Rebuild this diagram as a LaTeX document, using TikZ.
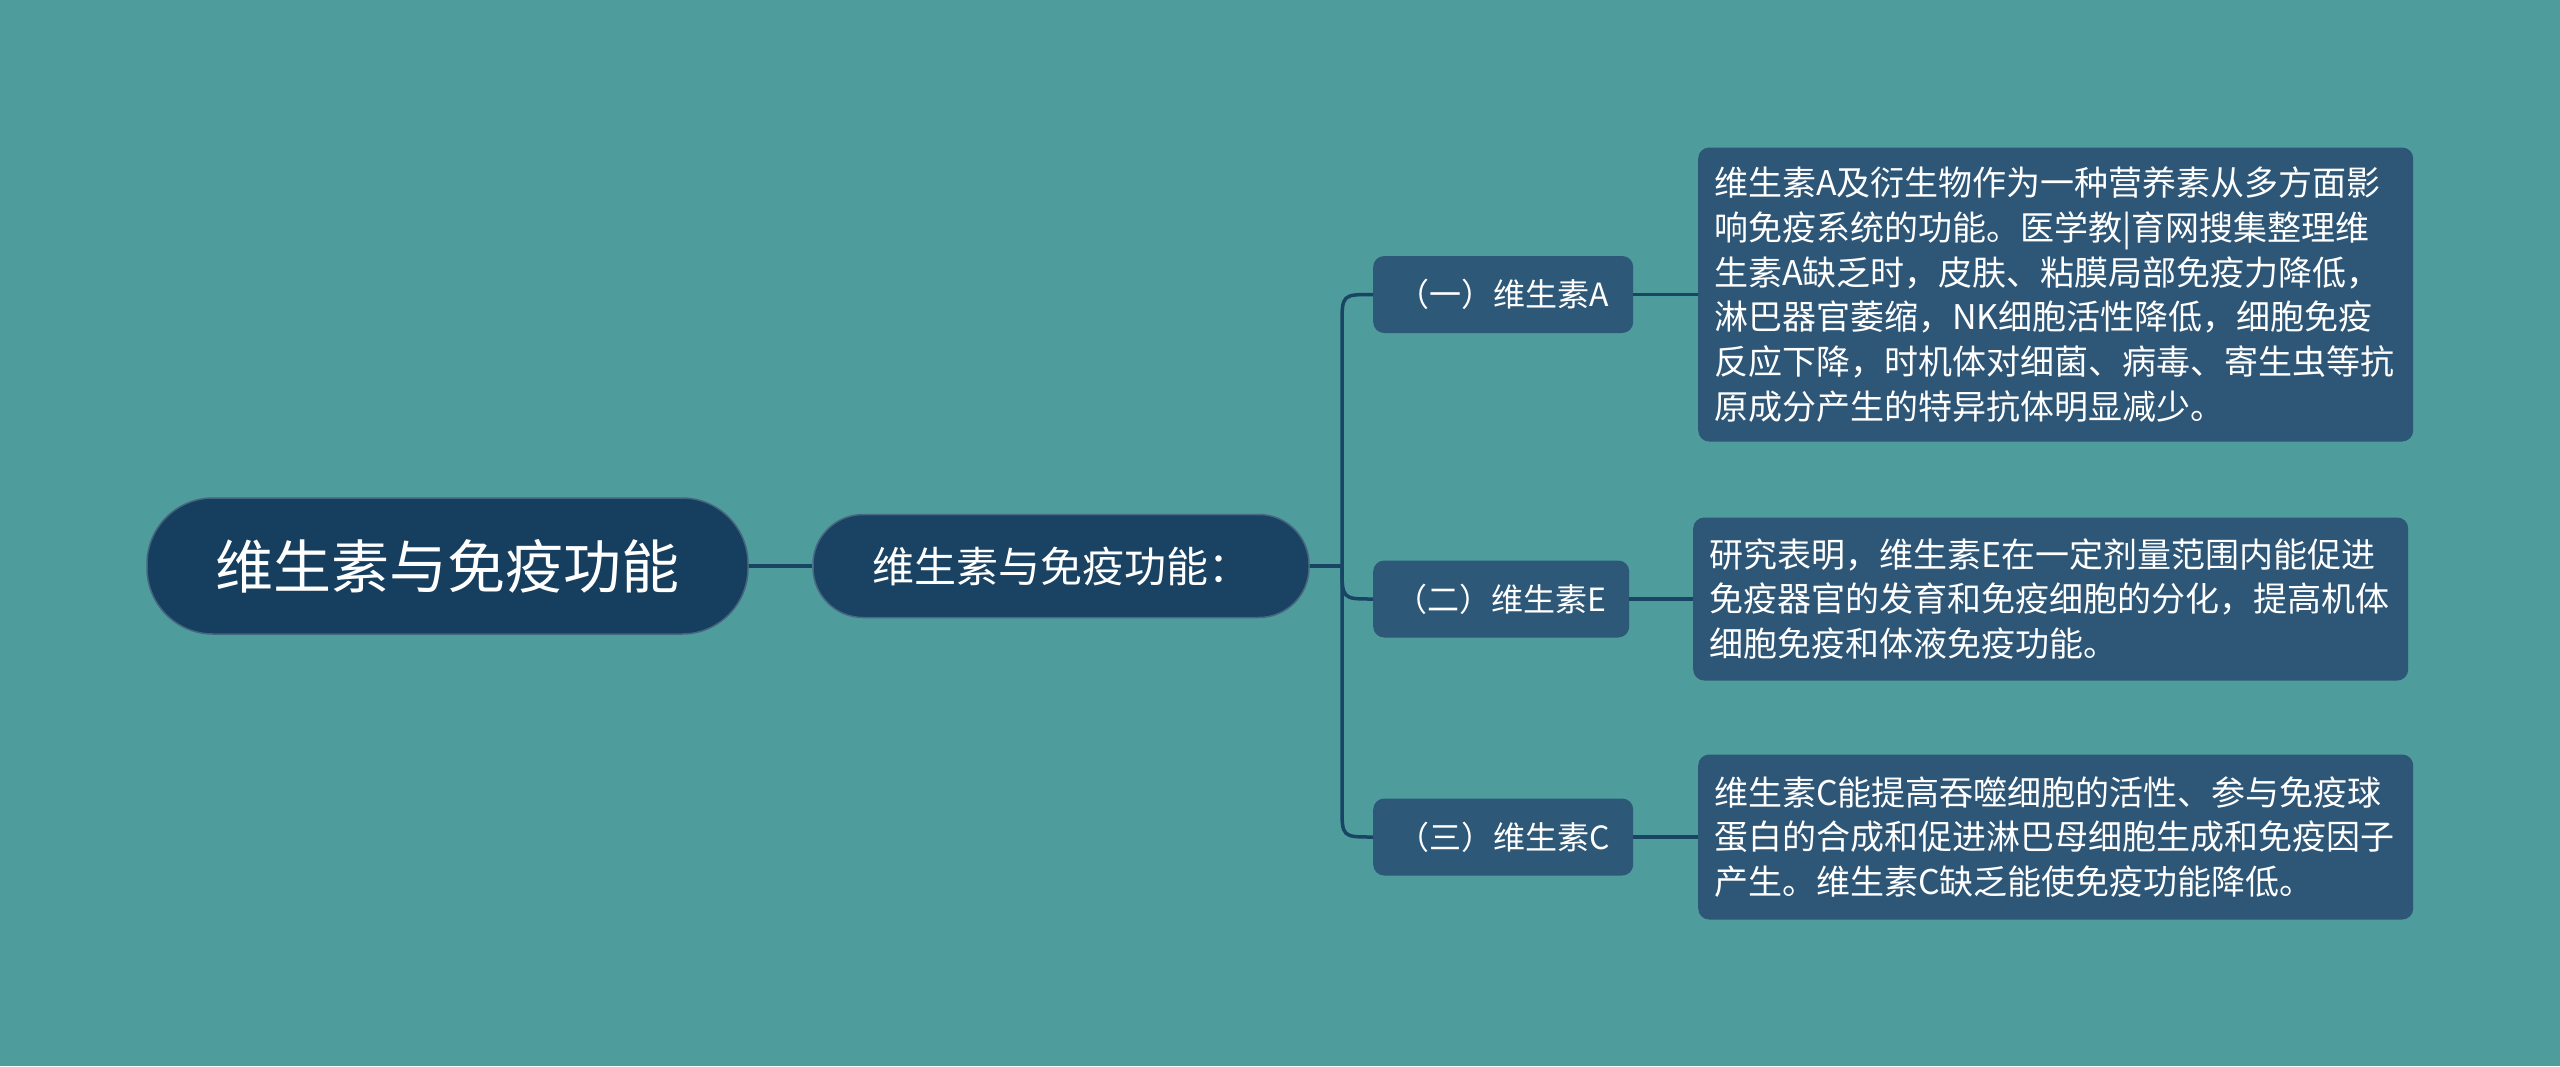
\documentclass[tikz,border=0pt]{standalone}
\usepackage{fontspec}
\newfontfamily\cjk{Noto Sans CJK SC}
\definecolor{bgc}{HTML}{4E9C9C}
\definecolor{rootc}{HTML}{163E5E}
\definecolor{midc}{HTML}{1A4262}
\definecolor{subc}{HTML}{2E5878}
\definecolor{boxc}{HTML}{2E5677}
\definecolor{linec}{HTML}{1A4464}
\tikzset{
  rootnode/.style={fill=rootc, draw=rootc!80!white, line width=1.5pt, rounded corners=66pt, text=white, font=\cjk\fontsize{58}{70}\selectfont, inner sep=0pt},
  midnode/.style={fill=midc, draw=midc!80!white, line width=1.5pt, rounded corners=50pt, text=white, font=\cjk\fontsize{42}{50}\selectfont, inner sep=0pt},
  subnode/.style={fill=subc, rounded corners=11pt, text=white, font=\cjk\fontsize{32}{38}\selectfont, inner sep=0pt},
  textbox/.style={fill=boxc, rounded corners=11pt, text=white, font=\cjk\fontsize{34}{44.7}\selectfont, text width=683pt, align=left, inner xsep=16pt, inner ysep=10pt},
  conn/.style={draw=linec, line width=3.5pt}
}
\begin{document}
\begin{tikzpicture}[x=1pt,y=-1pt]
\useasboundingbox (0,0) rectangle (2560,1066);
\fill[bgc] (0,0) rectangle (2560,1066);

\node[rootnode, minimum width=601pt, minimum height=136pt] (root) at (447.5,566) {维生素与免疫功能};
\node[midnode, minimum width=496pt, minimum height=103pt] (mid) at (1061,566) {维生素与免疫功能：};

\node[subnode, anchor=west, minimum width=260pt, minimum height=77pt] (a) at (1373,294.5) {（一）维生素A};
\node[subnode, anchor=west, minimum width=256pt, minimum height=77pt] (e) at (1373,599) {（二）维生素E};
\node[subnode, anchor=west, minimum width=260pt, minimum height=77pt] (c) at (1373,837) {（三）维生素C};

\node[textbox, anchor=west, minimum height=294pt] (ta) at (1698,294.5) {维生素A及衍生物作为一种营养素从多方面影\\响免疫系统的功能。医学教|育网搜集整理维\\生素A缺乏时，皮肤、粘膜局部免疫力降低，\\淋巴器官萎缩，NK细胞活性降低，细胞免疫\\反应下降，时机体对细菌、病毒、寄生虫等抗\\原成分产生的特异抗体明显减少。};
\node[textbox, anchor=west, minimum height=163pt] (te) at (1693,599) {研究表明，维生素E在一定剂量范围内能促进\\免疫器官的发育和免疫细胞的分化，提高机体\\细胞免疫和体液免疫功能。};
\node[textbox, anchor=west, minimum height=165pt] (tc) at (1698,837) {维生素C能提高吞噬细胞的活性、参与免疫球\\蛋白的合成和促进淋巴母细胞生成和免疫因子\\产生。维生素C缺乏能使免疫功能降低。};

\coordinate (sp) at (1342,566);
\draw[conn] (root.east) -- (mid.west);
\draw[conn] (mid.east) -- (sp);
\draw[conn] (sp) -- ([yshift=-31pt]sp |- a.west) .. controls (sp |- a.west) .. (a.west);
\draw[conn] (sp) .. controls (sp |- e.west) .. (e.west);
\draw[conn] (sp) -- ([yshift=31pt]sp |- c.west) .. controls (sp |- c.west) .. (c.west);
\draw[conn] (a.east) -- (ta.west);
\draw[conn] (e.east) -- (te.west);
\draw[conn] (c.east) -- (tc.west);
\end{tikzpicture}
\end{document}
